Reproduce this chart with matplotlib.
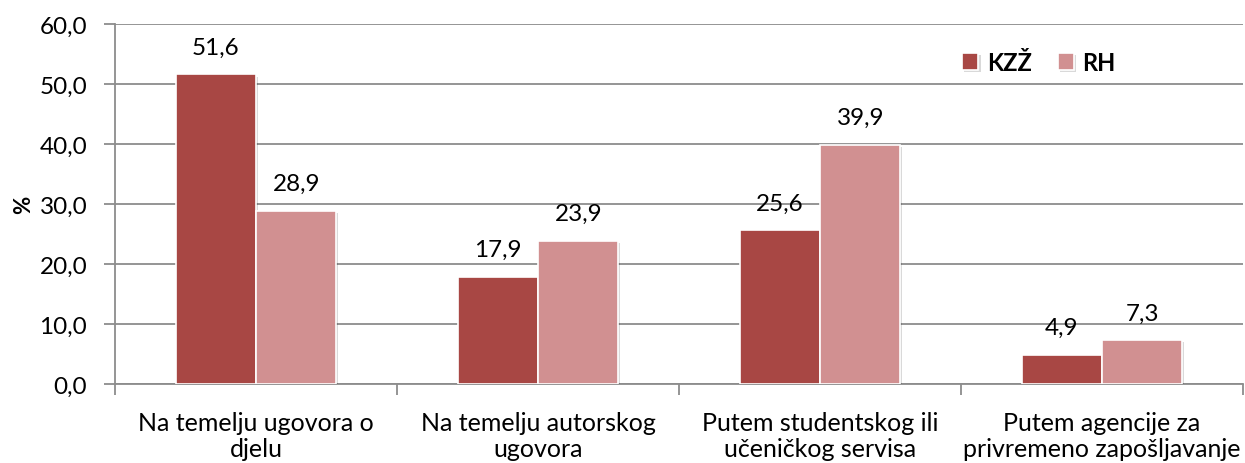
import matplotlib.pyplot as plt
import matplotlib.patheffects as pe
import numpy as np

plt.rcParams['font.family'] = ['Lato', 'DejaVu Sans']

# podaci
categories = ['Na temelju ugovora o\ndjelu', 'Na temelju autorskog\nugovora',
              'Putem studentskog ili\nučeničkog servisa', 'Putem agencije za\nprivremeno zapošljavanje']
kzz = [51.6, 17.9, 25.6, 4.9]
rh = [28.9, 23.9, 39.9, 7.3]
series_names = ['KZŽ', 'RH']
colors = ['#A84744', '#D19091']

fig = plt.figure(figsize=(12.45, 4.64), dpi=100)
ax = fig.add_axes([0.0924, 0.170, 0.906, 0.776])

x = np.arange(len(categories))
w = 0.285
grid_c = '#8C8C8C'
shadow = [pe.SimplePatchShadow(offset=(1.5, -1.5), shadow_rgbFace='#000000', alpha=0.15), pe.Normal()]

for vals, off, col, name in [(kzz, -w / 2, colors[0], series_names[0]),
                             (rh, w / 2, colors[1], series_names[1])]:
    bars = ax.bar(x + off, vals, width=w, color=col, edgecolor='white',
                  linewidth=1.2, label=name, zorder=3)
    for b, v in zip(bars, vals):
        b.set_path_effects(shadow)
        ax.annotate(f'{v:.1f}'.replace('.', ','), (b.get_x() + b.get_width() / 2, v),
                    xytext=(0, 12), textcoords='offset points', ha='center', va='bottom',
                    fontsize=17.5, zorder=4)

ax.set_xlim(-0.5, len(categories) - 0.5)
ax.set_ylim(0, 60)
ax.set_yticks(np.arange(0, 61, 10))
ax.set_yticklabels([f'{t:.1f}'.replace('.', ',') for t in np.arange(0, 61, 10)], fontsize=17.5)
ax.yaxis.grid(True, color=grid_c, linewidth=1.3, zorder=0)

ax.set_xticks(x)
ax.set_xticklabels(categories, fontsize=18, linespacing=1.2)
ax.tick_params(axis='x', length=0, pad=19)
ax.set_xticks(np.arange(-0.5, len(categories) - 0.4, 1), minor=True)
ax.tick_params(axis='x', which='minor', length=8, color=grid_c, width=1.3)
ax.tick_params(axis='y', length=8, color=grid_c, width=1.3, pad=12)

for s in ['top', 'right']:
    ax.spines[s].set_visible(False)
for s in ['left', 'bottom']:
    ax.spines[s].set_color(grid_c)
    ax.spines[s].set_linewidth(1.3)

ax.set_ylabel('%', fontsize=16, fontweight='bold', labelpad=4)

leg = ax.legend(loc='upper left', bbox_to_anchor=(0.732, 0.985), ncol=2, frameon=False,
                prop={'size': 17, 'weight': 'bold'}, handlelength=0.7, handleheight=0.7,
                handletextpad=0.35, columnspacing=1.1)

fig.savefig('out.png', dpi=100)
